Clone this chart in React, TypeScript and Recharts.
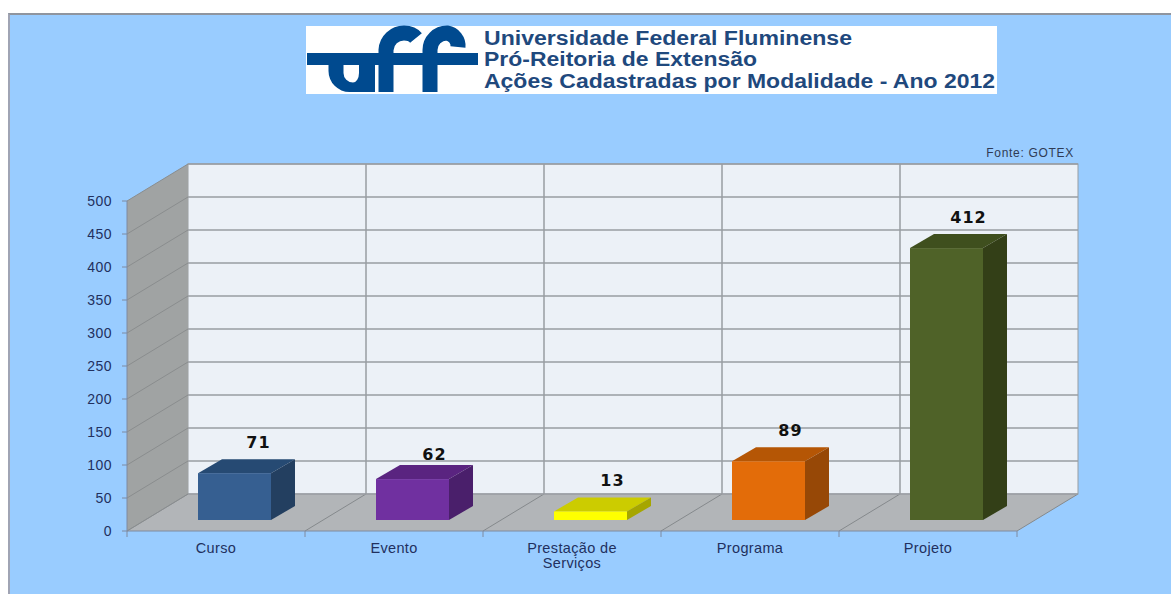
import { Bar, BarChart, CartesianGrid, LabelList, Text, XAxis, YAxis, usePlotArea } from "recharts";

const categories = ["Curso", "Evento", "Prestação de Serviços", "Programa", "Projeto"];
const acoes = [71, 62, 13, 89, 412];
const yTicks = [0, 50, 100, 150, 200, 250, 300, 350, 400, 450, 500];

const frontColors = ["#365F91", "#7030A0", "#FFFF00", "#E36C09", "#4F6228"];
const topColors = ["#264A73", "#5A2480", "#CCCC00", "#B55605", "#3F4F1E"];
const sideColors = ["#233F60", "#4A1F6B", "#A6A600", "#974806", "#333F17"];

const data = categories.map((name, i) => ({ name, value: acoes[i] }));

// fake 3d: how far the back wall and the bars are pushed away from the front plane
const WALL_DX = 61;
const WALL_DY = -37;
const BAR_SHIFT_X = 18;
const BAR_SHIFT_Y = -11;
const BAR_DX = 24;
const BAR_DY = -14;

const LABEL_COLOR = "#22305E";
const LINE_COLOR = "#989DA2";
const AXIS_FONT = "'Liberation Sans', Arial, sans-serif";

function Walls() {
  const plot = usePlotArea();
  if (!plot) return null;
  const { x, y, width, height } = plot;
  const bottom = y + height;
  const step = width / categories.length;
  const edges = [...categories.map((_, i) => x + i * step), x + width];
  return (
    <g>
      <rect x={x + WALL_DX} y={y + WALL_DY} width={width} height={height} fill="#ECF1F7" stroke={LINE_COLOR} />
      <polygon
        points={`${x},${y} ${x + WALL_DX},${y + WALL_DY} ${x + WALL_DX},${bottom + WALL_DY} ${x},${bottom}`}
        fill="#A0A3A3"
      />
      <polygon
        points={`${x},${bottom} ${x + WALL_DX},${bottom + WALL_DY} ${x + width + WALL_DX},${bottom + WALL_DY} ${x + width},${bottom}`}
        fill="#B2B5B8"
      />
      {edges.map((ex, i) => (
        <g key={i}>
          {i > 0 && i < categories.length && (
            <line x1={ex + WALL_DX} x2={ex + WALL_DX} y1={y + WALL_DY} y2={bottom + WALL_DY} stroke={LINE_COLOR} strokeWidth={1.5} />
          )}
          <line x1={ex} y1={bottom} x2={ex + WALL_DX} y2={bottom + WALL_DY} stroke={i === 0 ? "#8F9396" : "#85898C"} />
          <line x1={ex} x2={ex} y1={bottom} y2={bottom + 6} stroke="#7E8AA0" />
        </g>
      ))}
    </g>
  );
}

function GridLine(props: any) {
  const { x1, x2, y1 } = props;
  return (
    <g>
      <line x1={x1 + WALL_DX} x2={x2 + WALL_DX} y1={y1 + WALL_DY} y2={y1 + WALL_DY} stroke={LINE_COLOR} strokeWidth={1.5} />
      <line x1={x1} x2={x1 + WALL_DX} y1={y1} y2={y1 + WALL_DY} stroke="#8A8D8E" />
    </g>
  );
}

function Box3D(props: any) {
  const { x, y, width, height, index } = props;
  const left = x + BAR_SHIFT_X;
  const right = left + width;
  const top = y + BAR_SHIFT_Y;
  const base = top + height;
  return (
    <g>
      <polygon
        points={`${left},${top} ${left + BAR_DX},${top + BAR_DY} ${right + BAR_DX},${top + BAR_DY} ${right},${top}`}
        fill={topColors[index]}
      />
      <polygon
        points={`${right},${top} ${right + BAR_DX},${top + BAR_DY} ${right + BAR_DX},${base + BAR_DY} ${right},${base}`}
        fill={sideColors[index]}
      />
      <rect x={left} y={top} width={width} height={height} fill={frontColors[index]} />
    </g>
  );
}

function ValueLabel(props: any) {
  const { x, y, width, value } = props;
  // the 62 sits lower than the others in the source chart
  const lift = value === 62 ? 6 : 0;
  // the 71 is narrower, so the letter spacing pushes it left of the others
  const nudge = value === 71 ? 2 : 0;
  return (
    <text
      x={x + width / 2 + BAR_SHIFT_X + BAR_DX - 2 + nudge}
      y={y + BAR_SHIFT_Y + BAR_DY - 11.5 + lift}
      textAnchor="middle"
      fontFamily="'DejaVu Sans', sans-serif"
      fontWeight="bold"
      fontSize={16}
      letterSpacing={1}
      fill="#111"
    >
      {value}
    </text>
  );
}

function CategoryTick(props: any) {
  const { x, y, payload } = props;
  return (
    <Text
      x={x}
      y={y}
      width={120}
      textAnchor="middle"
      verticalAnchor="start"
      lineHeight={15}
      fontFamily={AXIS_FONT}
      fontSize={14.5}
      letterSpacing={0.35}
      fill={LABEL_COLOR}
    >
      {payload.value}
    </Text>
  );
}

function Header() {
  const stroke = { fill: "none", stroke: "#004A8F", strokeWidth: 15 };
  const title = { fontFamily: AXIS_FONT, fontWeight: "bold", fontSize: 20, fill: "#1F497D" };
  return (
    <svg width={1171} height={594} style={{ position: "absolute", left: 0, top: 0 }}>
      <rect x={306} y={26} width={691} height={68} fill="#fff" />
      <rect x={307} y={53} width={171} height={12} fill="#004A8F" />
      <path d="M328.5 60 V71 A21 21 0 0 0 349.5 92 H375 V60 H359 V73 A6 9.5 0 0 1 353 82.5 A9.5 9.5 0 0 1 343.5 73 V60 Z" fill="#004A8F" />
      <path d="M386 92 V50 A18 18 0 0 1 404 33 Q412 33 416 38" {...stroke} />
      <path d="M430 92 V50 A17 17 0 0 1 447 33 A13 13 0 0 1 458 47" {...stroke} />
      <text x={484} y={45} textLength={368} lengthAdjust="spacingAndGlyphs" {...title}>Universidade Federal Fluminense</text>
      <text x={484} y={66} textLength={273} lengthAdjust="spacingAndGlyphs" {...title}>Pró-Reitoria de Extensão</text>
      <text x={484} y={88} textLength={511} lengthAdjust="spacingAndGlyphs" {...title}>Ações Cadastradas por Modalidade - Ano 2012</text>
      <text x={1074} y={157} textAnchor="end" fontFamily={AXIS_FONT} fontSize={12} letterSpacing={0.7} fill="#2F3B55">Fonte: GOTEX</text>
    </svg>
  );
}

export default function App() {
  return (
    <div style={{ position: "absolute", left: 0, top: 0, width: 1171, height: 594, background: "#fff", overflow: "hidden" }}>
      <div
        style={{
          position: "absolute",
          left: 8,
          top: 13,
          right: 0,
          bottom: 0,
          background: "#99CCFF",
          borderLeft: "2px solid #A0A4B4",
          borderTop: "2px solid #8F959F",
        }}
      />
      <Header />
      <div style={{ position: "absolute", left: 0, top: 0 }}>
        <BarChart width={1171} height={594} data={data} barSize={73} margin={{ top: 201, right: 154, bottom: 0, left: 0 }}>
          <Walls />
          <CartesianGrid horizontal={GridLine} vertical={false} {...({ zIndex: 100 } as any)} />
          <XAxis
            dataKey="name"
            height={63}
            interval={0}
            axisLine={{ stroke: "#7E8AA0" }}
            tickLine={false}
            tick={<CategoryTick />}
            tickMargin={6}
          />
          <YAxis
            width={127}
            domain={[0, 500]}
            ticks={yTicks}
            interval={0}
            axisLine={{ stroke: "#7E8AA0" }}
            tickLine={{ stroke: "#7E8AA0" }}
            tickSize={5}
            tickMargin={10}
            tick={{ fontFamily: AXIS_FONT, fontSize: 14, letterSpacing: 0.5, fill: LABEL_COLOR }}
          />
          <Bar dataKey="value" shape={<Box3D />} isAnimationActive={false}>
            <LabelList dataKey="value" content={<ValueLabel />} />
          </Bar>
        </BarChart>
      </div>
    </div>
  );
}
